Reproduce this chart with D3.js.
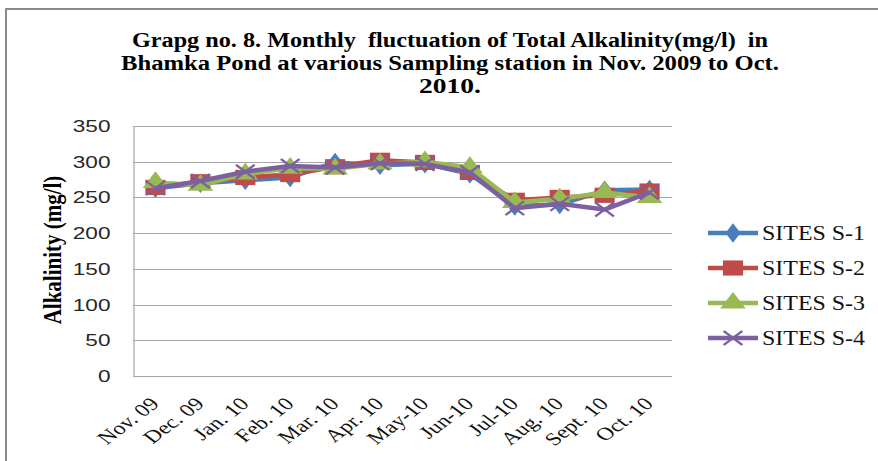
<!doctype html>
<html lang="en">
<head>
    <meta charset="UTF-8">
    <script src="https://cdnjs.cloudflare.com/ajax/libs/d3/7.0.0/d3.min.js"></script>
    <title>Total Alkalinity</title>
    <style>
        body { margin: 0; background: #fff; }
    </style>
</head>
<body>

<div id="viz_area"></div>

<script>
    const months = ["Nov. 09", "Dec. 09", "Jan. 10", "Feb. 10", "Mar. 10", "Apr. 10",
        "May-10", "Jun-10", "Jul-10", "Aug. 10", "Sept. 10", "Oct. 10"];

    const s1 = [263, 270, 274, 278, 299, 295, 297, 283, 238, 240, 260, 261];
    const s2 = [264, 272, 278, 282, 293, 302, 299, 285, 246, 250, 253, 259];
    const s3 = [271, 267, 283, 291, 290, 297, 300, 292, 243, 248, 257, 250];
    const s4 = [263, 273, 286, 294, 292, 298, 297, 285, 235, 241, 233, 257];

    const seriesNames = ["SITES S-1", "SITES S-2", "SITES S-3", "SITES S-4"];
    const yTicks = [0, 50, 100, 150, 200, 250, 300, 350];

    const series = [
        {name: seriesNames[0], values: s1, color: "#4A7EBB", symbol: "diamond"},
        {name: seriesNames[1], values: s2, color: "#BE4B48", symbol: "square"},
        {name: seriesNames[2], values: s3, color: "#98B954", symbol: "triangle"},
        {name: seriesNames[3], values: s4, color: "#7D60A0", symbol: "x"}
    ];

    const W = 878, H = 461;
    const plot = {left: 133, right: 672, top: 126, bottom: 376};
    const sx = 1.33; // the picture is stretched sideways

    const svg = d3.select('#viz_area')
        .append("svg")
        .attr("width", W)
        .attr("height", H);

    // outer frame
    svg.append("rect")
        .attr("x", 6).attr("y", 9)
        .attr("width", 1000).attr("height", 1000)
        .attr("fill", "none")
        .attr("stroke", "#8c8c8c")
        .attr("stroke-width", 2);

    // title
    const titleLines = [
        {t: "Grapg no. 8. Monthly  fluctuation of Total Alkalinity(mg/l)  in", y: 47, len: 636},
        {t: "Bhamka Pond at various Sampling station in Nov. 2009 to Oct.", y: 70, len: 658},
        {t: "2010.", y: 93, len: 62}
    ];
    svg.append("g").selectAll("text")
        .data(titleLines)
        .join("text")
        .attr("x", 450)
        .attr("y", d => d.y)
        .attr("text-anchor", "middle")
        .attr("textLength", d => d.len)
        .attr("lengthAdjust", "spacingAndGlyphs")
        .style("font-family", "'Liberation Serif', 'Times New Roman', serif")
        .style("font-weight", "bold")
        .style("font-size", "20.5px")
        .style("white-space", "pre")
        .text(d => d.t);

    const x = d3.scaleBand()
        .domain(months)
        .range([plot.left, plot.right]);

    const y = d3.scaleLinear()
        .domain([0, 350])
        .range([plot.bottom, plot.top]);

    // gridlines
    svg.append("g")
        .selectAll("line")
        .data(yTicks)
        .join("line")
        .attr("x1", plot.left)
        .attr("x2", plot.right)
        .attr("y1", d => Math.round(y(d)) + 0.5)
        .attr("y2", d => Math.round(y(d)) + 0.5)
        .attr("stroke", "#a6a6a6")
        .attr("stroke-width", 1.2);

    // y axis
    const yAxis = svg.append("g")
        .attr("transform", `translate(${plot.left + 0.5},0)`)
        .call(d3.axisLeft(y).tickValues(yTicks).tickSize(0));
    yAxis.select(".domain").attr("stroke", "#a6a6a6").attr("stroke-width", 1.2);
    yAxis.selectAll("text")
        .attr("x", -23 / sx)
        .attr("transform", `scale(${sx},1)`)
        .style("font-family", "'Liberation Sans', Arial, sans-serif")
        .style("font-size", "17px")
        .attr("fill", "#262626");

    // x axis labels
    const xAxis = svg.append("g")
        .attr("transform", `translate(0,${plot.bottom})`)
        .call(d3.axisBottom(x).tickSize(0).tickPadding(0));
    xAxis.select(".domain").remove();
    xAxis.selectAll("text")
        .attr("text-anchor", "end")
        .attr("dy", null)
        .attr("x", 0)
        .attr("y", 0)
        .attr("transform", `translate(5,29) scale(${sx},1) rotate(-45)`)
        .style("font-family", "'Liberation Serif', 'Times New Roman', serif")
        .style("font-size", "18px")
        .attr("fill", "#111");

    // y axis title
    svg.append("text")
        .attr("transform", `translate(61,250) scale(1.2,1) rotate(-90)`)
        .attr("text-anchor", "middle")
        .style("font-family", "'Liberation Serif', 'Times New Roman', serif")
        .style("font-weight", "bold")
        .style("font-size", "21px")
        .text("Alkalinity  (mg/l)");

    const line = d3.line()
        .x((d, i) => x(months[i]) + x.bandwidth() / 2)
        .y(d => y(d));

    const shapes = {
        diamond: d3.symbol().type(d3.symbolDiamond).size(110)(),
        square: d3.symbol().type(d3.symbolSquare).size(230)(),
        triangle: d3.symbol().type(d3.symbolTriangle).size(160)()
    };

    function drawMarker(g, s, cx, cy) {
        if (s.symbol === "x") {
            const r = 7;
            g.append("path")
                .attr("d", `M${-r},${-r}L${r},${r}M${-r},${r}L${r},${-r}`)
                .attr("transform", `translate(${cx},${cy}) scale(${sx},1)`)
                .attr("stroke", s.color)
                .attr("stroke-width", 2)
                .attr("fill", "none");
        } else {
            g.append("path")
                .attr("d", shapes[s.symbol])
                .attr("transform", `translate(${cx},${cy}) scale(${sx},1)`)
                .attr("fill", s.color);
        }
    }

    series.forEach(s => {
        const g = svg.append("g");
        g.append("path")
            .datum(s.values)
            .attr("d", line)
            .attr("fill", "none")
            .attr("stroke", s.color)
            .attr("stroke-width", 4.5)
            .attr("stroke-linejoin", "round");
        s.values.forEach((v, i) => {
            drawMarker(g, s, x(months[i]) + x.bandwidth() / 2, y(v));
        });
    });

    // legend
    const legend = svg.append("g");
    const legendY = [233, 268, 303, 338];
    series.forEach((s, i) => {
        const g = legend.append("g");
        g.append("line")
            .attr("x1", 708).attr("x2", 758)
            .attr("y1", legendY[i]).attr("y2", legendY[i])
            .attr("stroke", s.color)
            .attr("stroke-width", 4.5);
        drawMarker(g, s, 733, legendY[i]);
        g.append("text")
            .attr("x", 762)
            .attr("y", legendY[i] + 7)
            .attr("textLength", 103)
            .attr("lengthAdjust", "spacingAndGlyphs")
            .style("font-family", "'Liberation Serif', 'Times New Roman', serif")
            .style("font-size", "20px")
            .attr("fill", "#111")
            .text(s.name);
    });
</script>
</body>
</html>
